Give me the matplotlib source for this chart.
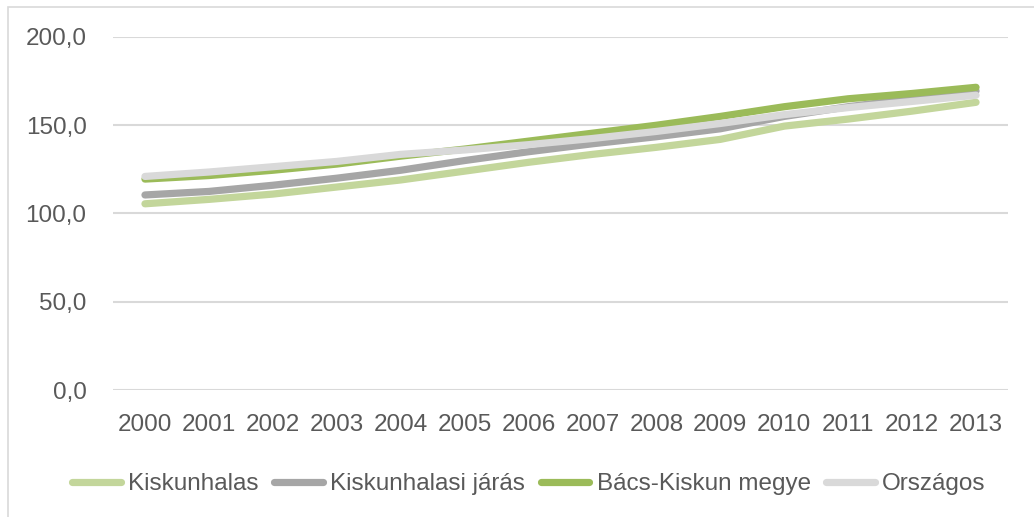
import matplotlib
matplotlib.use("Agg")
import matplotlib.pyplot as plt
from matplotlib.patches import Rectangle
from matplotlib import font_manager

years = ["2000", "2001", "2002", "2003", "2004", "2005", "2006", "2007",
         "2008", "2009", "2010", "2011", "2012", "2013"]
kiskunhalas = [105.5, 108.0, 111.0, 115.0, 119.0, 124.0, 129.0, 133.5,
               137.5, 142.0, 149.5, 153.5, 158.0, 163.0]
jaras = [110.5, 112.5, 116.0, 120.0, 124.5, 130.0, 135.0, 139.5,
         143.5, 148.0, 155.0, 160.5, 165.0, 169.5]
bacs = [119.5, 121.5, 124.5, 128.0, 132.5, 136.5, 141.0, 145.5,
        150.0, 155.0, 160.5, 165.0, 168.0, 171.5]
orszagos = [121.0, 123.5, 126.5, 129.5, 133.5, 136.0, 139.0, 142.5,
            146.5, 151.0, 156.0, 160.0, 163.5, 167.0]
series_names = ["Kiskunhalas", "Kiskunhalasi járás", "Bács-Kiskun megye", "Országos"]
yticks = [0, 50, 100, 150, 200]
ytick_labels = ["0,0", "50,0", "100,0", "150,0", "200,0"]

available = {f.name for f in font_manager.fontManager.ttflist}
fams = [f for f in ["Liberation Sans Narrow", "Liberation Sans", "DejaVu Sans"] if f in available]
plt.rcParams["font.family"] = fams

W, H = 1034, 517
fig = plt.figure(figsize=(W / 100, H / 100), dpi=100)
ax = fig.add_axes([113 / W, (H - 390) / H, (1008 - 113) / W, (390 - 37) / H])

colors = ["#C3D69B", "#A6A6A6", "#9BBB59", "#D9D9D9"]
data = [kiskunhalas, jaras, bacs, orszagos]
x = list(range(len(years)))
for vals, c, name in zip(data, colors, series_names):
    ax.plot(x, vals, color=c, lw=5.2, solid_capstyle="round",
            solid_joinstyle="round", label=name, zorder=3)

ax.set_xlim(-0.5, len(years) - 0.5)
ax.set_ylim(0, 200)
ax.set_yticks(yticks)
ax.set_yticklabels(ytick_labels)
ax.set_xticks(x)
ax.set_xticklabels(years)
for s in ax.spines.values():
    s.set_visible(False)
ax.grid(axis="y", color="#D9D9D9", lw=1.5, zorder=1)
ax.set_axisbelow(True)
FS = 17.5
ax.tick_params(axis="both", length=0, labelsize=FS, labelcolor="#595959")
ax.tick_params(axis="y", pad=19)
ax.tick_params(axis="x", pad=17)

leg = fig.legend(loc="center", bbox_to_anchor=(529 / W, (H - 484) / H), ncol=4,
                 frameon=False, fontsize=FS, handlelength=2.0,
                 handletextpad=0.3, columnspacing=0.64, labelcolor="#595959",
                 borderaxespad=0, borderpad=0)

fig.patches.append(Rectangle((8 / W, -0.1), 1.2, (H - 7) / H + 0.1,
                             transform=fig.transFigure, fill=False,
                             edgecolor="#D9D9D9", lw=1.2))

fig.savefig("out.png", dpi=100)
